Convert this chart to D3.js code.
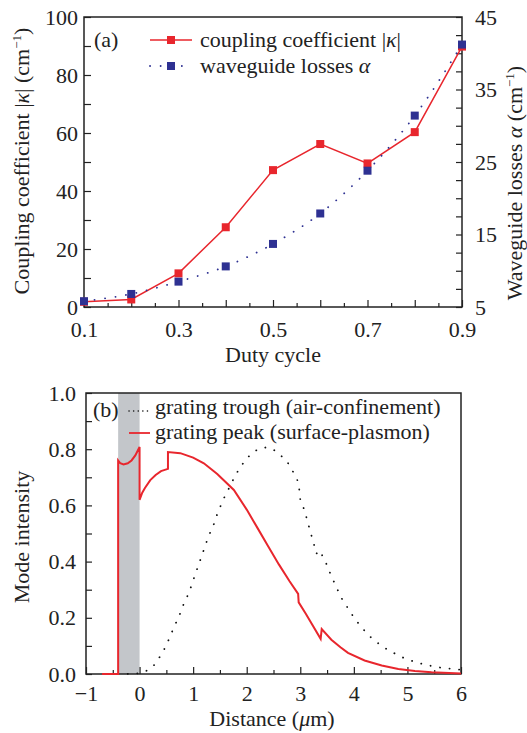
<!DOCTYPE html>
<html>
<head>
<meta charset="utf-8">
<title>grating chart</title>
<script src="https://cdn.jsdelivr.net/npm/d3@7/dist/d3.min.js"></script>
<style>
  body { margin: 0; background: #fff; }
  text { font-family: "Liberation Serif", "Times New Roman", serif; fill: #222; }
</style>
</head>
<body>
<svg id="chart" width="527" height="733"></svg>
<script>
// ---- panel (a) data ----
var duty = [0.1, 0.2, 0.3, 0.4, 0.5, 0.6, 0.7, 0.8, 0.9];
var kappa = [1.8, 2.6, 11.6, 27.5, 47.2, 56.2, 49.5, 60.3, 89.8];
var alpha = [5.8, 6.8, 8.5, 10.6, 13.7, 17.9, 23.8, 31.4, 41.2];

// ---- panel (b) data ----
var peakX = [-0.7, -0.4, -0.4, -0.36, -0.3, -0.22, -0.15, -0.08, 0, 0, 0.05, 0.1, 0.2, 0.3, 0.4, 0.53, 0.53,
  0.76, 1.0, 1.2, 1.45, 1.76, 2.0, 2.2, 2.4, 2.6, 2.8, 2.96, 2.97, 3.1, 3.38, 3.4, 3.58, 3.75, 3.89, 4.2, 4.52, 4.83, 5.14, 5.45, 6.0];
var peakY = [0, 0, 0.76, 0.75, 0.746, 0.75, 0.76, 0.778, 0.808, 0.62, 0.645, 0.662, 0.69, 0.708, 0.722, 0.73, 0.79,
  0.786, 0.77, 0.75, 0.712, 0.655, 0.585, 0.52, 0.455, 0.39, 0.33, 0.285, 0.255, 0.215, 0.125, 0.16, 0.122, 0.095, 0.075, 0.048, 0.03, 0.018, 0.011, 0.006, 0.002];

var troughX = [-0.4, -0.1, 0.06, 0.21, 0.31, 0.41, 0.5, 0.58, 0.66, 0.74, 0.81, 0.89, 0.96, 1.03, 1.1, 1.17, 1.23, 1.31, 1.39, 1.46,
  1.59, 1.68, 1.76, 1.86, 1.96, 2.08, 2.21, 2.35, 2.45, 2.55, 2.65, 2.75, 2.85, 2.94, 2.98, 3.0, 3.08, 3.13, 3.19, 3.25, 3.3,
  3.36, 3.47, 3.53, 3.61, 3.69, 3.78, 3.88, 3.98, 4.09, 4.2, 4.33, 4.47, 4.61, 4.83, 4.97, 5.14, 5.31, 5.49, 5.67, 5.86, 6.0];
var troughY = [0, 0.001, 0.005, 0.019, 0.04, 0.071, 0.102, 0.139, 0.174, 0.207, 0.243, 0.276, 0.31, 0.35, 0.388, 0.425, 0.46, 0.5, 0.535, 0.575,
  0.632, 0.665, 0.697, 0.73, 0.757, 0.783, 0.8, 0.806, 0.804, 0.792, 0.775, 0.757, 0.725, 0.694, 0.658, 0.62, 0.582, 0.547, 0.505, 0.466, 0.428,
  0.44, 0.4, 0.371, 0.336, 0.302, 0.267, 0.237, 0.207, 0.179, 0.154, 0.128, 0.107, 0.089, 0.066, 0.054, 0.043, 0.034, 0.027, 0.021, 0.018, 0.015];

var metalBand = [-0.4, 0];

var red = "#e8262d", blue = "#2e3192", ink = "#222";
var fs = "22px";
var svg = d3.select("#chart");

// =========== panel (a) ===========
var a = {left: 84, right: 462, top: 17, bottom: 307};
var xa = d3.scaleLinear().domain([0.1, 0.9]).range([a.left, a.right]);
var yk = d3.scaleLinear().domain([0, 100]).range([a.bottom, a.top]);
var yl = d3.scaleLinear().domain([5, 45]).range([a.bottom, a.top]);

var ga = svg.append("g");

function styleAxis(g) {
  g.select(".domain").remove();
  g.selectAll("line").attr("stroke", ink).attr("stroke-width", 1.2);
  g.selectAll("text").style("font-size", fs).attr("fill", ink);
}

// minor ticks
ga.append("g").attr("transform", "translate(0," + a.bottom + ")")
  .call(d3.axisBottom(xa).tickValues(d3.range(0.15, 0.9, 0.1)).tickSize(-4).tickFormat(""))
  .call(styleAxis);
ga.append("g").attr("transform", "translate(0," + a.bottom + ")")
  .call(d3.axisBottom(xa).tickValues([0.1, 0.2, 0.3, 0.4, 0.5, 0.6, 0.7, 0.8, 0.9]).tickSize(-7).tickPadding(14)
    .tickFormat(function(d) { return [0.1, 0.3, 0.5, 0.7, 0.9].indexOf(+d.toFixed(1)) >= 0 ? d.toFixed(1) : ""; }))
  .call(styleAxis);
ga.append("g").attr("transform", "translate(" + a.left + ",0)")
  .call(d3.axisLeft(yk).tickValues(d3.range(0, 101, 10)).tickSize(-7).tickPadding(6)
    .tickFormat(function(d) { return d % 20 === 0 ? d : ""; }))
  .call(styleAxis);
ga.append("g").attr("transform", "translate(" + a.right + ",0)")
  .call(d3.axisRight(yl).tickValues(d3.range(5, 45.1, 2.5)).tickSize(-6).tickPadding(13)
    .tickFormat(function(d) { return (d - 5) % 10 === 0 ? d : ""; }))
  .call(styleAxis);

ga.append("rect").attr("x", a.left).attr("y", a.top)
  .attr("width", a.right - a.left).attr("height", a.bottom - a.top)
  .attr("fill", "none").attr("stroke", ink).attr("stroke-width", 1.5);

var lineK = d3.line().x(function(d, i) { return xa(duty[i]); }).y(function(d) { return yk(d); });
ga.append("path").datum(kappa).attr("d", lineK)
  .attr("fill", "none").attr("stroke", red).attr("stroke-width", 1.5);
ga.selectAll(".sqk").data(kappa).enter().append("rect")
  .attr("x", function(d, i) { return xa(duty[i]) - 4; })
  .attr("y", function(d) { return yk(d) - 4; })
  .attr("width", 8).attr("height", 8).attr("fill", red);

var lineL = d3.line().curve(d3.curveMonotoneX)
  .x(function(d, i) { return xa(duty[i]); }).y(function(d) { return yl(d); });
ga.append("path").datum(alpha).attr("d", lineL)
  .attr("fill", "none").attr("stroke", blue).attr("stroke-width", 1.8)
  .attr("stroke-linecap", "round").attr("stroke-dasharray", "0.1,10.5");
ga.selectAll(".sql").data(alpha).enter().append("rect")
  .attr("x", function(d, i) { return xa(duty[i]) - 4; })
  .attr("y", function(d) { return yl(d) - 4; })
  .attr("width", 8).attr("height", 8).attr("fill", blue);

// legend (a)
ga.append("text").attr("x", 94).attr("y", 47).style("font-size", fs).text("(a)");
ga.append("line").attr("x1", 150).attr("x2", 192).attr("y1", 40).attr("y2", 40).attr("stroke", red).attr("stroke-width", 1.5);
ga.append("rect").attr("x", 167).attr("y", 36).attr("width", 8).attr("height", 8).attr("fill", red);
var t1 = ga.append("text").attr("x", 200).attr("y", 47).style("font-size", fs);
t1.append("tspan").text("coupling coefficient |");
t1.append("tspan").style("font-style", "italic").text("κ");
t1.append("tspan").text("|");
ga.append("line").attr("x1", 150).attr("x2", 192).attr("y1", 66).attr("y2", 66).attr("stroke", blue)
  .attr("stroke-width", 1.8).attr("stroke-linecap", "round").attr("stroke-dasharray", "0.1,10.5");
ga.append("rect").attr("x", 167).attr("y", 62).attr("width", 8).attr("height", 8).attr("fill", blue);
var t2 = ga.append("text").attr("x", 200).attr("y", 73).style("font-size", fs);
t2.append("tspan").text("waveguide losses ");
t2.append("tspan").style("font-style", "italic").text("α");

// axis titles (a)
ga.append("text").attr("x", 273).attr("y", 362).attr("text-anchor", "middle")
  .style("font-size", fs).text("Duty cycle");
var lt = ga.append("text").attr("transform", "translate(29,161) rotate(-90)")
  .attr("text-anchor", "middle").style("font-size", fs);
lt.append("tspan").text("Coupling coefficient |");
lt.append("tspan").style("font-style", "italic").text("κ");
lt.append("tspan").text("| (cm");
lt.append("tspan").attr("dy", -8).style("font-size", "13px").text("−1");
lt.append("tspan").attr("dy", 8).text(")");
var rt = ga.append("text").attr("transform", "translate(522,183) rotate(-90)")
  .attr("text-anchor", "middle").style("font-size", fs);
rt.append("tspan").text("Waveguide losses ");
rt.append("tspan").style("font-style", "italic").text("α");
rt.append("tspan").text(" (cm");
rt.append("tspan").attr("dy", -8).style("font-size", "13px").text("−1");
rt.append("tspan").attr("dy", 8).text(")");

// =========== panel (b) ===========
var b = {left: 86, right: 461, top: 393, bottom: 674};
var xb = d3.scaleLinear().domain([-1, 6]).range([b.left, b.right]);
var yb = d3.scaleLinear().domain([0, 1]).range([b.bottom, b.top]);
var gb = svg.append("g");

gb.append("rect").attr("x", xb(metalBand[0])).attr("y", b.top)
  .attr("width", xb(metalBand[1]) - xb(metalBand[0])).attr("height", b.bottom - b.top)
  .attr("fill", "#c3c6ca");

gb.append("g").attr("transform", "translate(0," + b.bottom + ")")
  .call(d3.axisBottom(xb).tickValues(d3.range(-0.5, 6, 1)).tickSize(-4).tickFormat(""))
  .call(styleAxis);
gb.append("g").attr("transform", "translate(0," + b.bottom + ")")
  .call(d3.axisBottom(xb).tickValues(d3.range(-1, 6.1, 1)).tickSize(-7).tickPadding(11).tickFormat(d3.format("d")))
  .call(styleAxis);
gb.append("g").attr("transform", "translate(" + b.left + ",0)")
  .call(d3.axisLeft(yb).tickValues(d3.range(0, 1.01, 0.1)).tickSize(-6).tickPadding(10)
    .tickFormat(function(d) { return Math.round(d * 10) % 2 === 0 ? d.toFixed(1) : ""; }))
  .call(styleAxis);

gb.append("rect").attr("x", b.left).attr("y", b.top)
  .attr("width", b.right - b.left).attr("height", b.bottom - b.top)
  .attr("fill", "none").attr("stroke", ink).attr("stroke-width", 1.5);

var lineT = d3.line().x(function(d, i) { return xb(troughX[i]); }).y(function(d) { return yb(d); });
gb.append("path").datum(troughY).attr("d", lineT)
  .attr("fill", "none").attr("stroke", "#111").attr("stroke-width", 1.8)
  .attr("stroke-linecap", "round").attr("stroke-dasharray", "0.1,9.5");

var lineP = d3.line().x(function(d, i) { return xb(peakX[i]); }).y(function(d) { return yb(d); });
gb.append("path").datum(peakY).attr("d", lineP)
  .attr("fill", "none").attr("stroke", red).attr("stroke-width", 2);

// legend (b)
gb.append("text").attr("x", 93).attr("y", 417).style("font-size", fs).text("(b)");
gb.append("line").attr("x1", 129).attr("x2", 150).attr("y1", 411).attr("y2", 411).attr("stroke", "#111")
  .attr("stroke-width", 1.5).attr("stroke-linecap", "round").attr("stroke-dasharray", "0.1,4.5");
gb.append("text").attr("x", 155).attr("y", 414).style("font-size", fs).text("grating trough (air-confinement)");
gb.append("line").attr("x1", 129).attr("x2", 150).attr("y1", 433).attr("y2", 433).attr("stroke", red).attr("stroke-width", 1.8);
gb.append("text").attr("x", 155).attr("y", 439).style("font-size", fs).text("grating peak (surface-plasmon)");

gb.append("text").attr("x", 272).attr("y", 726).attr("text-anchor", "middle").style("font-size", fs)
  .call(function(t) {
    t.append("tspan").text("Distance (");
    t.append("tspan").style("font-style", "italic").text("μ");
    t.append("tspan").text("m)");
  });
gb.append("text").attr("transform", "translate(29,537) rotate(-90)")
  .attr("text-anchor", "middle").style("font-size", fs).text("Mode intensity");
</script>
</body>
</html>
